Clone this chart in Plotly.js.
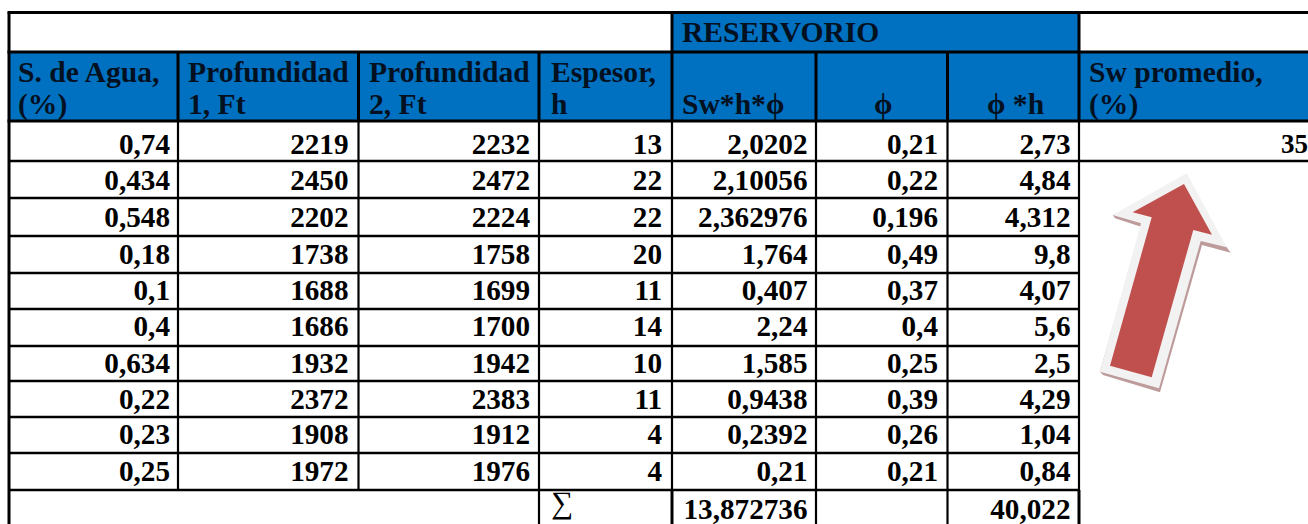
<!DOCTYPE html>
<html>
<head>
<meta charset="utf-8">
<script src="https://cdn.plot.ly/plotly-3.0.1.min.js"></script>
<style>html,body{margin:0;padding:0;background:#fff;overflow:hidden}#c{width:1308px;height:524px}</style>
</head>
<body>
<div id="c"></div>
<script>
// ---- data ----
const swAgua   = ['0,74','0,434','0,548','0,18','0,1','0,4','0,634','0,22','0,23','0,25'];
const prof1    = ['2219','2450','2202','1738','1688','1686','1932','2372','1908','1972'];
const prof2    = ['2232','2472','2224','1758','1699','1700','1942','2383','1912','1976'];
const espesor  = ['13','22','22','20','11','14','10','11','4','4'];
const swHPhi   = ['2,0202','2,10056','2,362976','1,764','0,407','2,24','1,585','0,9438','0,2392','0,21','13,872736'];
const phi      = ['0,21','0,22','0,196','0,49','0,37','0,4','0,25','0,39','0,26','0,21'];
const phiH     = ['2,73','4,84','4,312','9,8','4,07','5,6','2,5','4,29','1,04','0,84','40,022'];
const swProm   = ['35'];
const groupTitle = 'RESERVORIO';
const sigma = '∑';
const headerTop = ['S. de Agua,','Profundidad','Profundidad','Espesor,','Sw promedio,'];
const headerBot = ['(%)','1, Ft','2, Ft','h','Sw*h*ϕ','ϕ','ϕ *h','(%)'];

// ---- layout geometry (pixels of the sheet) ----
const W = 1308, H = 524;
const colEdge = [9,178,358.5,539,672,816,947.5,1079,1308];
const rowEdge = [12.5,52,121,161,198,236,273,309,346,381,417,453,490,524];
const rowMid  = [146.5,183,220,257,293,329,366,402,437,474,512];
const colRight = [170,348.5,530,662,807.5,938,1070.5];
const promLeft = 1281;
const topLeft = [18,188,369,551,1089];
const botLeft = [18,188,369,551,682,874,987,1089];
const yHeadTop = 75, yHeadBot = 107, yGroup = 35;

const FONT = {family:'"Liberation Serif","Times New Roman",serif', size:29.2, color:'#000', weight:700};
const FONTH = Object.assign({}, FONT, {color:'#03101f', size:29.6});

function txt(x, y, text, pos, font){
  return {type:'scatter', mode:'text', x, y, text, textposition:pos, textfont:font||FONT,
          hoverinfo:'skip', showlegend:false, cliponaxis:false};
}
const same = (n, v) => Array(n).fill(v);

const traces = [
  txt(same(swAgua.length,colRight[0]), rowMid.slice(0,swAgua.length), swAgua, 'middle left'),
  txt(same(prof1.length,colRight[1]), rowMid.slice(0,prof1.length), prof1, 'middle left'),
  txt(same(prof2.length,colRight[2]), rowMid.slice(0,prof2.length), prof2, 'middle left'),
  txt(same(espesor.length,colRight[3]), rowMid.slice(0,espesor.length), espesor, 'middle left'),
  txt(same(swHPhi.length,colRight[4]), rowMid, swHPhi, 'middle left'),
  txt(same(phi.length,colRight[5]), rowMid.slice(0,phi.length), phi, 'middle left'),
  txt(same(phiH.length,colRight[6]), rowMid, phiH, 'middle left'),
  txt([promLeft], [rowMid[0]], swProm, 'middle right', Object.assign({},FONT,{size:27})),
  txt(topLeft, same(topLeft.length,yHeadTop), headerTop, 'middle right', FONTH),
  txt(botLeft, same(botLeft.length,yHeadBot), headerBot, 'middle right', FONTH),
  txt([botLeft[4]], [yGroup], [groupTitle], 'middle right', FONTH),
  txt([botLeft[3]], [505], [sigma], 'middle right', Object.assign({},FONT,{weight:400,size:31}))
];

function line(x0,y0,x1,y1,w){
  return {type:'line', xref:'x', yref:'y', x0,y0,x1,y1, line:{color:'#000',width:w}, layer:'above'};
}
function rect(x0,y0,x1,y1,c){
  return {type:'rect', xref:'x', yref:'y', x0,y0,x1,y1, fillcolor:c, line:{width:0}, layer:'below'};
}
function poly(xs,ys,c){
  const path = xs.map((x,i)=>(i?'L':'M')+x+','+ys[i]).join(' ')+' Z';
  return {type:'path', xref:'x', yref:'y', path, fillcolor:c, line:{width:0}, layer:'below'};
}
const BLUE = '#0070C0';
const shapes = [
  rect(colEdge[4],rowEdge[0],colEdge[7],rowEdge[1],BLUE),
  rect(colEdge[0],rowEdge[1],W,rowEdge[2],BLUE),
  // arrow: shadow, light outline, red body
  poly([1180,1226.7,1230.7,1202,1160,1103,1100,1141,1115,1112.7],[200,247.3,252.7,245,392.3,375,371.7,226.7,218.3,215],'#bd9b9b'),
  poly([1186.7,1226.7,1200.7,1159,1100,1141,1112.7],[173.3,247.3,241,388.3,371.7,223.3,215],'#f2f2f2'),
  poly([1184,1212,1193.3,1151.7,1110,1151.7,1132.7],[184,234.7,230,377.3,365.7,217.3,212.3],'#C0504D'),
  // horizontals
  line(colEdge[0]-1.5,rowEdge[0],W,rowEdge[0],3),
  line(colEdge[0]-1.5,rowEdge[1],W,rowEdge[1],3),
  line(colEdge[0]-1.5,rowEdge[2],W,rowEdge[2],3),
  line(colEdge[0],rowEdge[3],W,rowEdge[3],2.5)
];
for (let r=4; r<rowEdge.length-1; r++) shapes.push(line(colEdge[0],rowEdge[r],colEdge[7]+1,rowEdge[r],2.4));
// verticals
shapes.push(line(colEdge[0],rowEdge[0],colEdge[0],H,3));
shapes.push(line(colEdge[4],rowEdge[0],colEdge[4],rowEdge[1],3));
shapes.push(line(colEdge[7],rowEdge[0],colEdge[7],rowEdge[1],3));
[1,2,3,4,5,6,7].forEach(c=>shapes.push(line(colEdge[c],rowEdge[1],colEdge[c],rowEdge[2],3)));
[1,2,3,4,5,6,7].forEach(c=>shapes.push(line(colEdge[c],rowEdge[2],colEdge[c],rowEdge[12],2.2)));
[3,4,5,6,7].forEach(c=>shapes.push(line(colEdge[c],rowEdge[12],colEdge[c],H,(c===4||c===7)?3:2.2)));

const hidden = {visible:false, fixedrange:true, showgrid:false, zeroline:false};
const layout = {
  width:W, height:H, margin:{l:0,r:0,t:0,b:0,pad:0},
  paper_bgcolor:'#fff', plot_bgcolor:'#fff', showlegend:false,
  xaxis:Object.assign({range:[0,W]},hidden),
  yaxis:Object.assign({range:[H,0]},hidden),
  shapes
};
Plotly.newPlot('c', traces, layout, {displayModeBar:false, staticPlot:true});
</script>
</body>
</html>
